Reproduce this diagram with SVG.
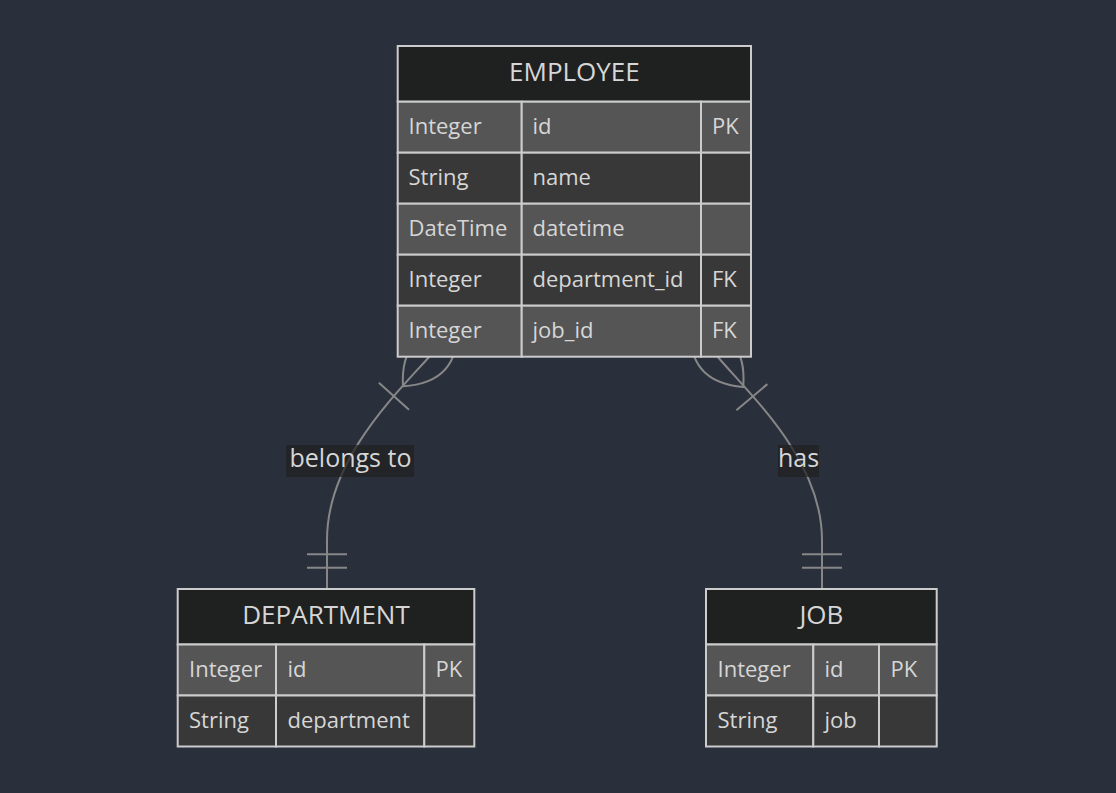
<svg xmlns="http://www.w3.org/2000/svg" width="1116" height="793" viewBox="0 0 1116 793">
  <defs>
    <style>
      .bg { fill: #2a2f3c; }
      .hdr { fill: #1f2020; stroke: #cccccc; stroke-width: 2; }
      .odd { fill: #555555; stroke: #cccccc; stroke-width: 2; }
      .even { fill: #383838; stroke: #cccccc; stroke-width: 2; }
      .title { font-family: "Open Sans", "DejaVu Sans", sans-serif; font-size: 26px; fill: #d6d6d6; text-anchor: middle; }
      .attr { font-family: "Open Sans", "DejaVu Sans", sans-serif; font-size: 22px; fill: #d6d6d6; }
      .rel { fill: none; stroke: #878787; stroke-width: 2; }
      .lblbox { fill: #1f2020; opacity: 0.7; }
      .lbl { font-family: "Open Sans", "DejaVu Sans", sans-serif; font-size: 25px; fill: #d6d6d6; text-anchor: middle; }
    </style>
    <marker id="oneOrMoreStart" viewBox="0 0 45 36" refX="18" refY="18" markerWidth="101.25" markerHeight="81" markerUnits="userSpaceOnUse" orient="auto">
      <path d="M0,18 Q18,0 36,18 Q18,36 0,18 M42,9 L42,27" fill="none" stroke="#878787" stroke-width="0.9"/>
    </marker>
    <marker id="onlyOneEnd" viewBox="0 0 18 18" refX="18" refY="9" markerWidth="40.5" markerHeight="40.5" markerUnits="userSpaceOnUse" orient="auto">
      <path d="M3,0 L3,18 M9,0 L9,18" fill="none" stroke="#878787" stroke-width="0.9"/>
    </marker>
  </defs>

  <rect class="bg" x="0" y="0" width="1116" height="793"/>

  <g id="connectors">
    <path class="rel" d="M430,356 C395,395 327,460 327,540 L327,588" marker-start="url(#oneOrMoreStart)" marker-end="url(#onlyOneEnd)"/>
    <path class="rel" d="M717,356 C750,395 822,460 822,540 L822,588" marker-start="url(#oneOrMoreStart)" marker-end="url(#onlyOneEnd)"/>
    <g id="label-belongs-to">
      <rect class="lblbox" x="286" y="445" width="128" height="32"/>
      <text class="lbl" x="350.5" y="467">belongs to</text>
    </g>
    <g id="label-has">
      <rect class="lblbox" x="778" y="445" width="41" height="32"/>
      <text class="lbl" x="798.5" y="467">has</text>
    </g>
  </g>

  <g id="node-EMPLOYEE">
    <rect class="hdr" x="397.7" y="46" width="353.3" height="55.7"/>
    <text class="title" x="574.4" y="81">EMPLOYEE</text>
    <rect class="odd" x="397.7" y="101.7" width="124" height="51"/>
    <rect class="odd" x="521.7" y="101.7" width="179.3" height="51"/>
    <rect class="odd" x="701" y="101.7" width="50" height="51"/>
    <rect class="even" x="397.7" y="152.7" width="124" height="51"/>
    <rect class="even" x="521.7" y="152.7" width="179.3" height="51"/>
    <rect class="even" x="701" y="152.7" width="50" height="51"/>
    <rect class="odd" x="397.7" y="203.7" width="124" height="51"/>
    <rect class="odd" x="521.7" y="203.7" width="179.3" height="51"/>
    <rect class="odd" x="701" y="203.7" width="50" height="51"/>
    <rect class="even" x="397.7" y="254.7" width="124" height="51"/>
    <rect class="even" x="521.7" y="254.7" width="179.3" height="51"/>
    <rect class="even" x="701" y="254.7" width="50" height="51"/>
    <rect class="odd" x="397.7" y="305.7" width="124" height="51"/>
    <rect class="odd" x="521.7" y="305.7" width="179.3" height="51"/>
    <rect class="odd" x="701" y="305.7" width="50" height="51"/>
    <text class="attr" x="408.5" y="133.7">Integer</text>
    <text class="attr" x="532.5" y="133.7">id</text>
    <text class="attr" x="712" y="133.7">PK</text>
    <text class="attr" x="408.5" y="184.7">String</text>
    <text class="attr" x="532.5" y="184.7">name</text>
    <text class="attr" x="408.5" y="235.7">DateTime</text>
    <text class="attr" x="532.5" y="235.7">datetime</text>
    <text class="attr" x="408.5" y="286.7">Integer</text>
    <text class="attr" x="532.5" y="286.7">department_id</text>
    <text class="attr" x="712" y="286.7">FK</text>
    <text class="attr" x="408.5" y="337.7">Integer</text>
    <text class="attr" x="532.5" y="337.7">job_id</text>
    <text class="attr" x="712" y="337.7">FK</text>
  </g>

  <g id="node-DEPARTMENT">
    <rect class="hdr" x="177.7" y="589" width="296.6" height="55.5"/>
    <text class="title" x="326" y="623.5">DEPARTMENT</text>
    <rect class="odd" x="177.7" y="644.5" width="98.3" height="51"/>
    <rect class="odd" x="276" y="644.5" width="148.3" height="51"/>
    <rect class="odd" x="424.3" y="644.5" width="50" height="51"/>
    <rect class="even" x="177.7" y="695.5" width="98.3" height="51"/>
    <rect class="even" x="276" y="695.5" width="148.3" height="51"/>
    <rect class="even" x="424.3" y="695.5" width="50" height="51"/>
    <text class="attr" x="189" y="676.5">Integer</text>
    <text class="attr" x="287.5" y="676.5">id</text>
    <text class="attr" x="435.5" y="676.5">PK</text>
    <text class="attr" x="189" y="727.5">String</text>
    <text class="attr" x="287.5" y="727.5">department</text>
  </g>

  <g id="node-JOB">
    <rect class="hdr" x="706" y="589" width="230.7" height="55.5"/>
    <text class="title" x="821.4" y="623.5">JOB</text>
    <rect class="odd" x="706" y="644.5" width="107.3" height="51"/>
    <rect class="odd" x="813.3" y="644.5" width="65.7" height="51"/>
    <rect class="odd" x="879" y="644.5" width="57.7" height="51"/>
    <rect class="even" x="706" y="695.5" width="107.3" height="51"/>
    <rect class="even" x="813.3" y="695.5" width="65.7" height="51"/>
    <rect class="even" x="879" y="695.5" width="57.7" height="51"/>
    <text class="attr" x="717.5" y="676.5">Integer</text>
    <text class="attr" x="824.5" y="676.5">id</text>
    <text class="attr" x="890.5" y="676.5">PK</text>
    <text class="attr" x="717.5" y="727.5">String</text>
    <text class="attr" x="824.5" y="727.5">job</text>
  </g>
</svg>
